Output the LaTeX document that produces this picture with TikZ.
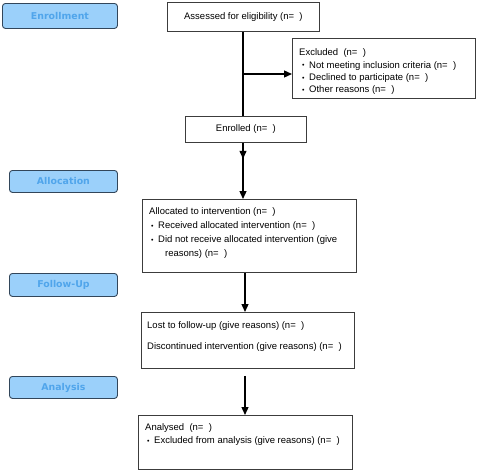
\documentclass[tikz,border=0pt]{standalone}
\usepackage{fontspec}
\setmainfont{Liberation Sans}
\newfontfamily\stagefont{DejaVu Sans}
\usetikzlibrary{arrows.meta,positioning}
\definecolor{stagefill}{RGB}{155,208,250}
\definecolor{stagetext}{RGB}{80,165,235}
\definecolor{stageline}{RGB}{50,70,90}
\definecolor{boxline}{RGB}{60,60,60}
\newcommand{\boxw}{0.8pt}
\newcommand{\arrw}{1.3pt}
\newcommand{\itm}{\makebox[7pt][l]{\raisebox{0.05ex}{\scriptsize\textbullet}}}

\begin{document}
\begin{tikzpicture}[x=1pt, y=-1pt]
                        %\draw[help lines, step=10] (0,0) grid (477,471);
                        \tikzset{
                            stage/.style = {draw = stageline, line width = 0.9pt, fill = stagefill, rounded corners = 3pt,
                                anchor = north west, inner sep = 0pt, minimum width = 108pt, minimum height = 22pt,
                                text = stagetext, font = \stagefont\bfseries\fontsize{9.4}{11}\selectfont},
                            box/.style = {draw = boxline, line width = \boxw, anchor = north west, inner sep = 0pt,
                                font = \fontsize{9.5}{12}\selectfont},
                            txt/.style = {anchor = north west, inner sep = 0pt, align = left,
                                font = \fontsize{9.5}{12.4}\selectfont},
                            arr/.style = {line width = \arrw, -{Triangle[length=8pt, width=7pt]}}
                        }
                        \useasboundingbox (0,0) rectangle (477,471);
                        % stages on the left
                        \node[stage, minimum width = 115pt, minimum height = 25pt] (enrollment) at (2,3) {Enrollment};
                        \node[stage] (allocation) at (9,170) {Allocation};
                        \node[stage, minimum height = 23pt] (followup) at (9,273) {Follow-Up};
                        \node[stage] (analysis) at (9,376) {Analysis};
                        % boxes
                        \node[box, minimum width = 152pt, minimum height = 29pt] (assessed) at (167,2) {Assessed for eligibility (n=~~)};
                        \node[box, minimum width = 183pt, minimum height = 60pt] (excluded) at (292,38) {};
                        \node[txt] (exctext) at (299,48.6) {Excluded~~(n=~~)\\
                            \hspace*{3pt}\itm Not meeting inclusion criteria (n=~~)\\
                            \hspace*{3pt}\itm Declined to participate (n=~~)\\
                            \hspace*{3pt}\itm Other reasons (n=~~)};
                        \node[box, minimum width = 121pt, minimum height = 26pt] (enrolled) at (185,116) {Enrolled (n=~~)};
                        \node[box, minimum width = 214pt, minimum height = 73pt] (allocated) at (142,199) {};
                        \node[txt, font = \fontsize{9.5}{14}\selectfont] (alloctext) at (149,207.6) {Allocated to intervention (n=~~)\\
                            \hspace*{2pt}\itm Received allocated intervention (n=~~)\\
                            \hspace*{2pt}\itm Did not receive allocated intervention (give\\
                            \hspace*{16pt}reasons) (n=~~)};
                        \node[box, minimum width = 213pt, minimum height = 56pt] (lost) at (141,312) {};
                        \node[txt, font = \fontsize{9.5}{21}\selectfont] (losttext) at (147,321.6) {Lost to follow-up (give reasons) (n=~~)\\
                            Discontinued intervention (give reasons) (n=~~)};
                        \node[box, minimum width = 214pt, minimum height = 54pt] (analysed) at (138,415) {};
                        \node[txt, font = \fontsize{9.5}{13}\selectfont] (analtext) at (145,423.6) {Analysed~~(n=~~)\\
                            \hspace*{2pt}\itm Excluded from analysis (give reasons) (n=~~)};
                        % connectors
                        \coordinate (split) at (243,74);
                        \coordinate (spine) at (245,0);
                        \coordinate (lostout) at ([yshift=-7pt]lost.south);
                        \draw[line width = \arrw] (assessed.south -| split) -- (enrolled.north -| split);
                        \draw[arr] (split) -- (split -| excluded.west);
                        \draw[arr] (enrolled.south -| split) -- ++(0,16);
                        \draw[arr] (enrolled.south -| split) -- (allocated.north -| split);
                        \draw[arr] (allocated.south -| spine) -- (lost.north -| spine);
                        \draw[arr] (lostout -| spine) -- (analysed.north -| spine);
\end{tikzpicture}
\end{document}
